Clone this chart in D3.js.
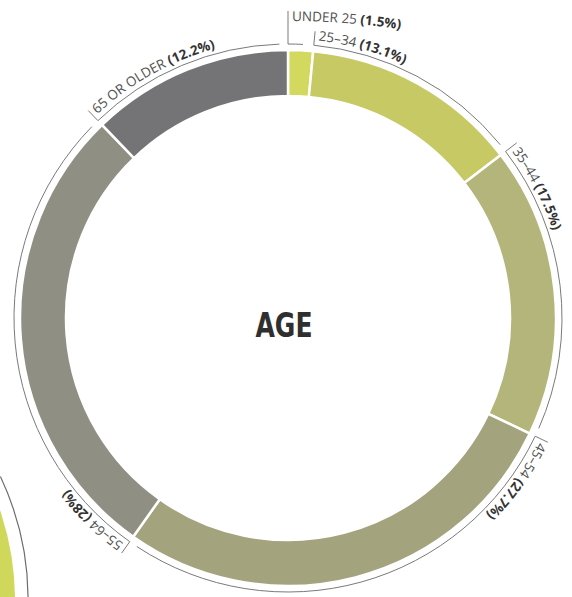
<!DOCTYPE html>
<html>
<head>
<meta charset="utf-8">
<script src="https://cdn.jsdelivr.net/npm/d3@7"></script>
<style>
  html, body { margin: 0; padding: 0; background: #fff; }
  svg { display: block; }
</style>
</head>
<body>
<svg id="chart" width="572" height="597"></svg>
<script>
// Age breakdown of respondents (percent)
const ageGroups = ["UNDER 25", "25–34", "35–44", "45–54", "55–64", "65 OR OLDER"];
const agePercent = [1.5, 13.1, 17.5, 27.7, 28, 12.2];
const ageColors = ["#d3d95f", "#c6c964", "#b4b57a", "#a3a37e", "#8f8f83", "#747476"];
const centerTitle = "AGE";

const svg = d3.select("#chart");
const cx = 288, cy = 318;
const rOuter = 268, rInner = 222;
const rLine = 274;          // thin guide ring carrying the labels
const rText = 279;          // label baseline
const tickLen = 14;
const labelFont = "'Open Sans', 'Noto Sans', sans-serif";
const labelSize = 13.5;

const data = ageGroups.map((g, i) => ({ group: g, value: agePercent[i], color: ageColors[i] }));

const pie = d3.pie().value(d => d.value).sort(null).startAngle(0).endAngle(2 * Math.PI);
const arcs = pie(data);

function pt(r, a) { return [r * Math.sin(a), -r * Math.cos(a)]; }

// Clockwise arc path at radius r from angle a0 to a1 (0 = 12 o'clock)
function arcLine(r, a0, a1) {
  const [x0, y0] = pt(r, a0), [x1, y1] = pt(r, a1);
  const large = (a1 - a0) > Math.PI ? 1 : 0;
  return `M${x0},${y0} A${r},${r} 0 ${large} 1 ${x1},${y1}`;
}

// Edge of the adjoining chart's ring, peeking in at the lower left
const nb = svg.append("g").attr("transform", "translate(-262,600)");
nb.append("path")
  .attr("d", d3.arc()({ innerRadius: 231, outerRadius: 277, startAngle: Math.PI * 0.3, endAngle: Math.PI * 0.7 }))
  .attr("fill", "#cfd85a");
nb.append("path")
  .attr("d", arcLine(290, Math.PI * 0.36, Math.PI * 0.7))
  .attr("fill", "none").attr("stroke", "#6d6d6d").attr("stroke-width", 1.2);

const g = svg.append("g").attr("transform", `translate(${cx},${cy})`);

const arcGen = d3.arc().innerRadius(rInner).outerRadius(rOuter);

g.selectAll("path.slice")
  .data(arcs)
  .join("path")
  .attr("class", "slice")
  .attr("d", arcGen)
  .attr("fill", d => d.data.color)
  .attr("stroke", "#fff")
  .attr("stroke-width", 2.5)
  .attr("stroke-linejoin", "miter");

const gap = 1.8 * Math.PI / 180;
const guides = g.append("g").attr("fill", "none").attr("stroke", "#7a7a7a").attr("stroke-width", 1);
const defs = svg.append("defs");

arcs.forEach((d, i) => {
  const small = (d.endAngle - d.startAngle) < 0.15;
  const a0 = d.startAngle;
  const a1 = small ? d.startAngle + (d.endAngle - d.startAngle) * 0.58 : d.endAngle - gap;
  guides.append("path").attr("d", arcLine(rLine, a0, a1));
  const tickTop = small ? 307 : rLine + tickLen;
  const [tx0, ty0] = pt(rLine, a0), [tx1, ty1] = pt(tickTop, a0);
  guides.append("line").attr("x1", tx0).attr("y1", ty0).attr("x2", tx1).attr("y2", ty1);

  const id = "lab" + i;
  if (small) {
    // a thin slice gets its label lifted above the ring on a flatter curve
    const lift = 480, rr = 297 + lift;
    const [sx, sy] = pt(rr, 0);
    const a = 0.2;
    const [ex, ey] = pt(rr, a);
    defs.append("path").attr("id", id)
      .attr("d", `M${sx},${sy} A${rr},${rr} 0 0 1 ${ex},${ey}`)
      .attr("transform", `translate(${cx},${cy + lift})`);
  } else {
    defs.append("path").attr("id", id).attr("d", arcLine(rText, a0, a0 + Math.PI * 0.9))
      .attr("transform", `translate(${cx},${cy})`);
  }
  const t = svg.append("text")
    .attr("font-family", labelFont)
    .attr("font-size", labelSize)
    .attr("fill", "#505050");
  const tp = t.append("textPath").attr("href", "#" + id).attr("startOffset", 4);
  tp.append("tspan").text(d.data.group + " ");
  tp.append("tspan").attr("font-weight", 700).attr("fill", "#333").text(`(${d.data.value}%)`);
});

// Centre title
g.append("text")
  .attr("x", -4)
  .attr("y", 19)
  .attr("text-anchor", "middle")
  .attr("font-family", "'Liberation Sans Narrow', 'DejaVu Sans Condensed', sans-serif")
  .attr("font-weight", 700)
  .attr("font-size", 33)
  .attr("textLength", 57)
  .attr("lengthAdjust", "spacingAndGlyphs")
  .attr("fill", "#2f2f2f")
  .text(centerTitle);
</script>
</body>
</html>
